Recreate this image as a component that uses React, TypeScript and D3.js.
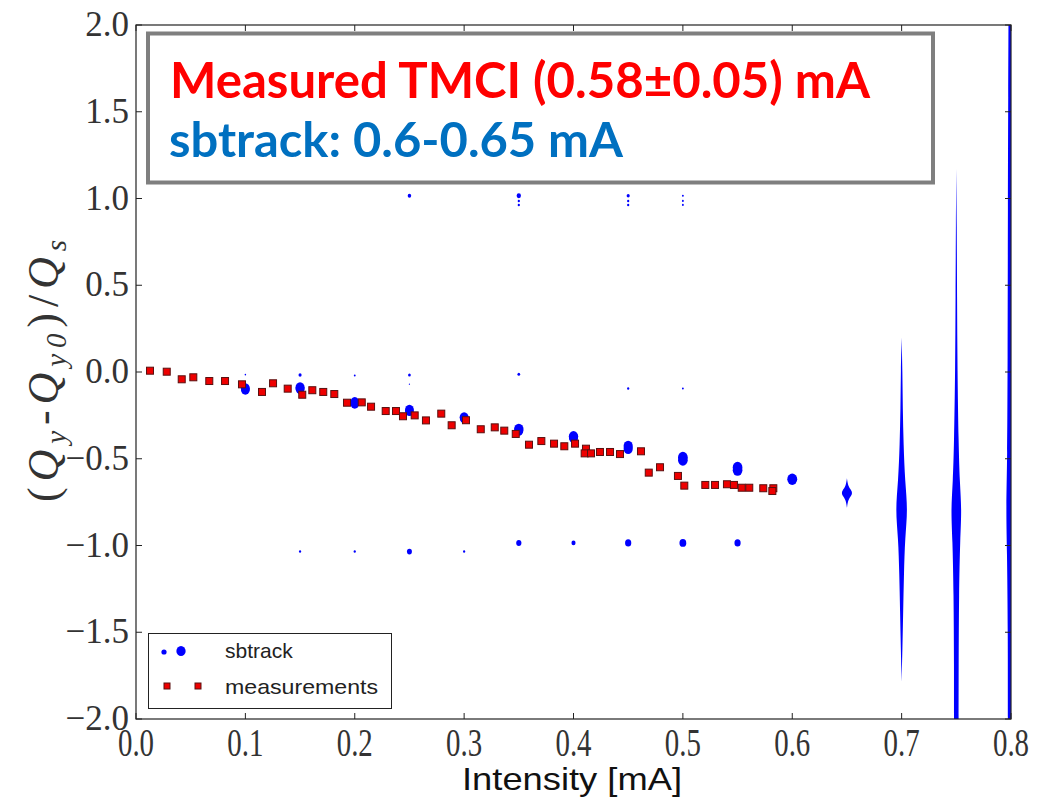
import React from "react";
import * as d3 from "d3";

// measured tune shift vs intensity (red squares)
const measI = [
  0.0128, 0.0281, 0.0418, 0.0524, 0.067, 0.0814, 0.0969, 0.1152, 0.1253, 0.1387,
  0.152, 0.1612, 0.1712, 0.1813, 0.1929, 0.2064, 0.2149, 0.2283, 0.2377, 0.2441,
  0.2548, 0.2651, 0.2791, 0.2886, 0.3017, 0.3152, 0.328, 0.3367, 0.3472, 0.3593,
  0.3706, 0.3822, 0.3916, 0.4014, 0.4114, 0.4102, 0.416, 0.4242, 0.4334, 0.4425,
  0.4617, 0.4688, 0.4791, 0.4955, 0.5013, 0.5205, 0.5294, 0.5403, 0.5467, 0.5538,
  0.5607, 0.5735, 0.5827, 0.5818,
];
const measQ = [
  0.0075, 0.0017, -0.042, -0.0305, -0.052, -0.052, -0.071, -0.115, -0.065, -0.096,
  -0.131, -0.105, -0.115, -0.127, -0.177, -0.175, -0.2, -0.225, -0.225, -0.255,
  -0.25, -0.279, -0.24, -0.307, -0.278, -0.33, -0.319, -0.338, -0.357, -0.419,
  -0.398, -0.413, -0.428, -0.413, -0.442, -0.469, -0.469, -0.461, -0.461, -0.473,
  -0.457, -0.58, -0.549, -0.599, -0.655, -0.651, -0.651, -0.647, -0.651, -0.667,
  -0.667, -0.67, -0.67, -0.686,
];

// sbtrack spectral lines (blue dots), amplitude sets the dot size
const sbI = [
  0.1, 0.1, 0.15, 0.15, 0.2, 0.2, 0.25, 0.25, 0.3, 0.3, 0.35, 0.35, 0.4, 0.4,
  0.45, 0.45, 0.5, 0.5, 0.55, 0.55, 0.6,
  0.1, 0.15, 0.2, 0.25, 0.25, 0.35, 0.45, 0.5,
  0.15, 0.2, 0.25, 0.3, 0.35, 0.4, 0.45, 0.5, 0.55,
  0.25, 0.35, 0.35, 0.35, 0.45, 0.45, 0.45, 0.5, 0.5, 0.5,
];
const sbQ = [
  -0.095, -0.102, -0.089, -0.097, -0.175, -0.184, -0.219, -0.227, -0.261, -0.269,
  -0.329, -0.338, -0.372, -0.38, -0.426, -0.442, -0.492, -0.508, -0.55, -0.566, -0.618,
  -0.015, -0.017, -0.02, -0.017, -0.07, -0.013, -0.095, -0.095,
  -1.035, -1.035, -1.035, -1.035, -0.985, -0.985, -0.985, -0.985, -0.985,
  1.016, 1.016, 0.986, 0.963, 1.016, 0.986, 0.963, 1.016, 0.986, 0.963,
];
const sbAmp = [
  0.72, 0.7, 0.74, 0.72, 0.74, 0.68, 0.72, 0.66, 0.72, 0.66,
  0.76, 0.72, 0.76, 0.72, 0.74, 0.74, 0.78, 0.78, 0.78, 0.78, 0.8,
  0.12, 0.25, 0.15, 0.22, 0.1, 0.22, 0.18, 0.15,
  0.18, 0.18, 0.4, 0.18, 0.42, 0.33, 0.5, 0.55, 0.5,
  0.28, 0.35, 0.18, 0.18, 0.25, 0.18, 0.18, 0.15, 0.15, 0.15,
];

// above threshold the spectrum smears out into vertical bands
const bandI = [0.65, 0.7, 0.75, 0.8];
const bandQ = [
  [-0.613, -0.66, -0.68, -0.697, -0.715, -0.735, -0.783],
  [0.199, 0.006, -0.207, -0.42, -0.633, -0.794, -0.954, -1.167, -1.381, -1.594, -1.786],
  [1.17, 0.859, 0.432, 0.006, -0.421, -0.634, -0.795, -0.954, -1.274, -1.7, -2.05],
  [2.1, 1.6, 1.0, 0.0, -0.5, -0.79, -1.0, -1.5, -2.1],
];
const bandAmp = [
  [0, 0.2, 0.7, 0.87, 0.7, 0.2, 0],
  [0, 0.13, 0.18, 0.31, 0.55, 1.0, 0.55, 0.37, 0.25, 0.13, 0],
  [0, 0.07, 0.12, 0.18, 0.37, 0.55, 0.87, 0.62, 0.43, 0.37, 0.37],
  [0.4, 0.45, 0.5, 0.55, 0.6, 0.8, 0.65, 0.5, 0.5],
];

const xTicks = [0.0, 0.1, 0.2, 0.3, 0.4, 0.5, 0.6, 0.7, 0.8];
const yTicks = [-2.0, -1.5, -1.0, -0.5, 0.0, 0.5, 1.0, 1.5, 2.0];

const W = 1045;
const H = 798;
const margin = { left: 136, right: 1011, top: 25, bottom: 719 };

const App = () => {
  const x = d3.scaleLinear().domain([0, 0.8]).range([margin.left, margin.right]);
  const y = d3.scaleLinear().domain([-2, 2]).range([margin.bottom, margin.top]);
  const r = d3.scaleLinear().domain([0, 1]).range([0, 6.2]);
  const fmt = (v: number) => d3.format(".1f")(v).replace("-", "\u2212");
  const serif = "'Liberation Serif', 'Times New Roman', serif";
  const sans = "'Liberation Sans', Arial, sans-serif";

  const sb = sbI.map((v, i) => ({ i: v, q: sbQ[i], a: sbAmp[i] }));
  const meas = measI.map((v, i) => ({ i: v, q: measQ[i] }));
  const sq = 7;

  const bandPath = (k: number) => {
    const pts = bandQ[k].map((q, j) => ({ q, a: bandAmp[k][j] }));
    return d3
      .area<{ q: number; a: number }>()
      .y((d) => y(d.q))
      .x0((d) => x(bandI[k]) - r(d.a))
      .x1((d) => x(bandI[k]) + r(d.a))
      .curve(d3.curveBasis)(pts);
  };

  const tick = 6;

  return (
    <svg
      width={W}
      height={H}
      style={{ position: "absolute", left: 0, top: 0, background: "#fff" }}
    >
      <defs>
        <clipPath id="plot">
          <rect
            x={margin.left}
            y={margin.top}
            width={margin.right - margin.left}
            height={margin.bottom - margin.top}
          />
        </clipPath>
      </defs>
      <rect width={W} height={H} fill="#fff" />

      <g clipPath="url(#plot)">
        {bandI.map((_, k) => (
          <path key={k} d={bandPath(k) || ""} fill="#0000ff" />
        ))}
        {sb.map((d, i) => (
          <ellipse
            key={i}
            cx={x(d.i)}
            cy={y(d.q)}
            rx={r(d.a)}
            ry={r(d.a) * 1.15}
            fill="#0000ff"
          />
        ))}
        {meas.map((d, i) => (
          <rect
            key={i}
            x={x(d.i) - sq / 2}
            y={y(d.q) - sq / 2}
            width={sq}
            height={sq}
            fill="#ee0000"
            stroke="#5a1010"
            strokeWidth={1}
          />
        ))}
      </g>

      {/* frame */}
      <rect
        x={margin.left}
        y={margin.top}
        width={margin.right - margin.left}
        height={margin.bottom - margin.top}
        fill="none"
        stroke="#222"
        strokeWidth={1.2}
      />

      {xTicks.map((t) => (
        <g key={"x" + t}>
          <line x1={x(t)} x2={x(t)} y1={margin.bottom} y2={margin.bottom - tick} stroke="#222" />
          <line x1={x(t)} x2={x(t)} y1={margin.top} y2={margin.top + tick} stroke="#222" />
          <text
            transform={`translate(${x(t)},756) scale(0.85,1.2)`}
            textAnchor="middle"
            fontFamily={serif}
            fontSize={34}
            fill="#333"
          >
            {fmt(t)}
          </text>
        </g>
      ))}
      {yTicks.map((t) => (
        <g key={"y" + t}>
          <line x1={margin.left} x2={margin.left + tick} y1={y(t)} y2={y(t)} stroke="#222" />
          <line x1={margin.right} x2={margin.right - tick} y1={y(t)} y2={y(t)} stroke="#222" />
          <text
            x={129}
            y={y(t) + 11}
            textAnchor="end"
            fontFamily={serif}
            fontSize={35}
            fill="#333"
          >
            {fmt(t)}
          </text>
        </g>
      ))}

      <text
        x={572}
        y={790}
        textAnchor="middle"
        fontFamily={sans}
        fontSize={32}
        textLength={220}
        lengthAdjust="spacingAndGlyphs"
        fill="#111"
      >
        Intensity [mA]
      </text>

      <text
        transform="translate(58,371) rotate(-90)"
        textAnchor="middle"
        fontFamily={serif}
        fontSize={44}
        fill="#333"
        textLength={262}
        lengthAdjust="spacing"
      >
        (<tspan fontStyle="italic">Q</tspan>
        <tspan fontStyle="italic" fontSize={29} dy={8}>y</tspan>
        <tspan dy={-8}>-</tspan>
        <tspan fontStyle="italic">Q</tspan>
        <tspan fontStyle="italic" fontSize={29} dy={8}>y0</tspan>
        <tspan dy={-8}>)/</tspan>
        <tspan fontStyle="italic">Q</tspan>
        <tspan fontStyle="italic" fontSize={29} dy={8}>s</tspan>
      </text>

      {/* legend */}
      <rect x={148.5} y={633.5} width={243} height={75} fill="#fff" stroke="#222" strokeWidth={1} />
      <ellipse cx={164} cy={652} rx={r(0.42)} ry={r(0.42)} fill="#0000ff" />
      <ellipse cx={181} cy={651} rx={r(0.75)} ry={r(0.75) * 1.1} fill="#0000ff" />
      <text x={225} y={658} fontFamily={sans} fontSize={21} fill="#222">
        sbtrack
      </text>
      {[167, 198].map((cx) => (
        <rect
          key={cx}
          x={cx - 3}
          y={686 - 3}
          width={6}
          height={6}
          fill="#ee0000"
          stroke="#5a1010"
          strokeWidth={1}
        />
      ))}
      <text
        x={225}
        y={694}
        fontFamily={sans}
        fontSize={21}
        textLength={153}
        lengthAdjust="spacingAndGlyphs"
        fill="#222"
      >
        measurements
      </text>

      {/* annotation box */}
      <rect x={148} y={33.5} width={785} height={149} fill="#fff" stroke="#7f7f7f" strokeWidth={4} />
      <text
        x={170}
        y={98}
        fontFamily="Lato, 'Open Sans', sans-serif"
        fontWeight="bold"
        fontSize={50}
        textLength={700}
        lengthAdjust="spacingAndGlyphs"
        fill="#ff0000"
      >
        Measured TMCI (0.58±0.05) mA
      </text>
      <text
        x={169}
        y={157}
        fontFamily="Lato, 'Open Sans', sans-serif"
        fontWeight="bold"
        fontSize={48}
        textLength={454}
        lengthAdjust="spacingAndGlyphs"
        fill="#0070c0"
      >
        sbtrack: 0.6-0.65 mA
      </text>
    </svg>
  );
};

export default App;
